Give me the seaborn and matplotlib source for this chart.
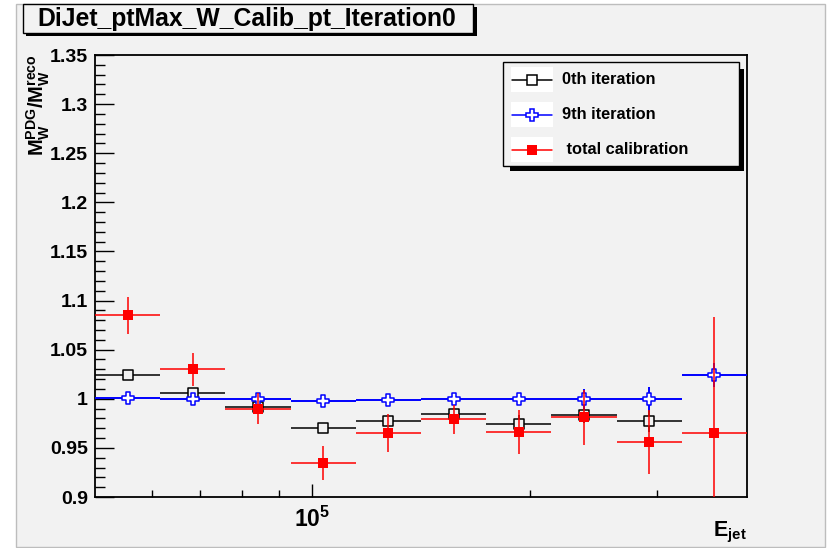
import numpy as np
import pandas as pd
import matplotlib
matplotlib.use("Agg")
import matplotlib.pyplot as plt
from matplotlib.patches import Rectangle
from matplotlib.lines import Line2D
from matplotlib.ticker import FixedLocator, NullFormatter
import seaborn as sns

# Jet-energy bins (log-spaced)
bin_edges = [50000, 61557, 75786, 93303, 114870, 141421, 174110,
             214355, 263902, 324901, 400000]

# W-mass ratio per bin for each calibration stage
iter0 = [1.0245, 1.006, 0.992, 0.970, 0.977, 0.985, 0.9745, 0.983, 0.977, np.nan]
iter0_err = [0.003, 0.004, 0.004, 0.004, 0.005, 0.006, 0.009, 0.008, 0.0107, np.nan]
iter9 = [1.001, 1.000, 1.000, 0.998, 0.999, 1.000, 1.000, 1.000, 1.000, 1.024]
iter9_err = [0.002, 0.003, 0.005, 0.003, 0.003, 0.004, 0.004, 0.010, 0.0124, 0.012]
total = [1.085, 1.030, 0.990, 0.935, 0.965, 0.979, 0.966, 0.981, 0.956, 0.965]
total_err = [0.0187, 0.017, 0.016, 0.0173, 0.019, 0.015, 0.0225, 0.028, 0.0327, 0.118]

series_names = ["0th iteration", "9th iteration", " total calibration"]
y_ticks = [0.9, 0.95, 1.0, 1.05, 1.1, 1.15, 1.2, 1.25, 1.3, 1.35]
y_tick_labels = ["0.9", "0.95", "1", "1.05", "1.1", "1.15", "1.2", "1.25", "1.3", "1.35"]

W, H = 827, 548
BG = "#f2f2f2"

sns.set_style("ticks")
plt.rcParams["font.family"] = ["Liberation Sans", "DejaVu Sans"]
plt.rcParams["mathtext.fontset"] = "custom"
plt.rcParams["mathtext.rm"] = "Liberation Sans"
plt.rcParams["mathtext.it"] = "Liberation Sans:bold"
plt.rcParams["mathtext.bf"] = "Liberation Sans:bold"
for key in ["text.color", "axes.labelcolor", "xtick.color", "ytick.color", "axes.edgecolor"]:
    plt.rcParams[key] = "black"


def fx(x):
    return x / W


def fy(y):
    return 1 - y / H


fig = plt.figure(figsize=(W / 100, H / 100), dpi=100, facecolor="white")
# canvas panel
fig.patches.append(Rectangle((fx(16), fy(547)), fx(825) - fx(16), fy(4) - fy(547),
                             transform=fig.transFigure, facecolor=BG,
                             edgecolor="#bdbdbd", linewidth=1.0, zorder=-5))

ax = fig.add_axes([fx(95), fy(497), fx(747) - fx(95), fy(55) - fy(497)])
ax.set_facecolor(BG)
ax.set_xscale("log")
ax.set_xlim(bin_edges[0], bin_edges[-1])
ax.set_ylim(0.9, 1.35)

edges = np.array(bin_edges, dtype=float)
centers = np.sqrt(edges[:-1] * edges[1:])
xerr = [centers - edges[:-1], edges[1:] - centers]

df = pd.DataFrame({
    "E_jet": np.concatenate([centers] * 3),
    "ratio": np.concatenate([iter0, iter9, total]),
    "err": np.concatenate([iter0_err, iter9_err, total_err]),
    "stage": np.repeat(series_names, len(centers)),
})

styles = {
    series_names[0]: dict(color="black", marker="s", face=BG, size=48, lw=1.1, elw=1.1),
    series_names[1]: dict(color="#0000ff", marker="P", face="white", size=64, lw=1.1, elw=1.4),
    series_names[2]: dict(color="#ff0000", marker="s", face="#ff0000", size=42, lw=0.0, elw=1.1),
}

for i, name in enumerate(series_names):
    st = styles[name]
    sub = df[df["stage"] == name].dropna()
    sel = np.isin(centers, sub["E_jet"].values)
    xe = [xerr[0][sel], xerr[1][sel]]
    ax.errorbar(sub["E_jet"], sub["ratio"], xerr=xe, yerr=sub["err"], fmt="none",
                ecolor=st["color"], elinewidth=st["elw"], capsize=0, zorder=2 + 2 * i)
    sns.scatterplot(data=sub, x="E_jet", y="ratio", ax=ax, marker=st["marker"],
                    s=st["size"], color=st["face"], edgecolor=st["color"],
                    linewidth=st["lw"], zorder=3 + 2 * i, legend=False)

ax.set_xlabel("")
ax.set_ylabel("")

# ticks
ax.yaxis.set_major_locator(FixedLocator(y_ticks))
ax.set_yticklabels(y_tick_labels)
ax.yaxis.set_minor_locator(FixedLocator(np.round(np.arange(0.9, 1.3501, 0.01), 3)))
ax.xaxis.set_major_locator(FixedLocator([1e5]))
ax.xaxis.set_minor_locator(FixedLocator([6e4, 7e4, 8e4, 9e4, 2e5, 3e5]))
ax.xaxis.set_minor_formatter(NullFormatter())
ax.set_xticklabels([r"$\mathbf{10^{5}}$"])
ax.tick_params(axis="y", which="major", direction="in", length=13.5, width=1.0,
               labelsize=14, pad=5)
ax.tick_params(axis="y", which="minor", direction="in", length=7, width=1.0)
ax.tick_params(axis="x", which="major", direction="in", length=9.5, width=1.0,
               labelsize=16.5, pad=7)
ax.tick_params(axis="x", which="minor", direction="in", length=5, width=1.0)
for lab in ax.get_yticklabels():
    lab.set_fontweight("bold")
for sp in ax.spines.values():
    sp.set_visible(True)
    sp.set_linewidth(1.3)
    sp.set_color("black")

# axis titles
fig.text(fx(38), fy(54), r"$\mathbf{M_{W}^{PDG}/M_{W}^{reco}}$", rotation=90,
         ha="center", va="top", fontsize=14.5)
fig.text(fx(747), fy(545), r"$\mathbf{E_{jet}}$", ha="right", va="bottom", fontsize=15.5)

# title box with shadow
fig.patches.append(Rectangle((fx(26), fy(36)), fx(477) - fx(26), fy(7) - fy(36),
                             transform=fig.transFigure, facecolor="black",
                             edgecolor="none", zorder=5))
fig.patches.append(Rectangle((fx(23), fy(33)), fx(473) - fx(23), fy(4) - fy(33),
                             transform=fig.transFigure, facecolor=BG,
                             edgecolor="black", linewidth=1.0, zorder=6))
fig.text(fx(247), fy(19), "DiJet_ptMax_W_Calib_pt_Iteration0", ha="center",
         va="center", fontsize=17.8, fontweight="bold", zorder=7)

# legend with shadow
fig.patches.append(Rectangle((fx(510), fy(171)), fx(744) - fx(510), fy(69) - fy(171),
                             transform=fig.transFigure, facecolor="black",
                             edgecolor="none", zorder=5))
fig.patches.append(Rectangle((fx(503), fy(166)), fx(739) - fx(503), fy(62) - fy(166),
                             transform=fig.transFigure, facecolor=BG,
                             edgecolor="black", linewidth=1.0, zorder=6))
row_y = [79.5, 114.5, 149.5]
for name, yc in zip(series_names, row_y):
    st = styles[name]
    fig.patches.append(Rectangle((fx(511), fy(yc + 12.5)), fx(553) - fx(511), 25 / H,
                                 transform=fig.transFigure, facecolor="white",
                                 edgecolor="none", zorder=7))
    fig.lines.append(Line2D([fx(512), fx(552)], [fy(yc), fy(yc)], transform=fig.transFigure,
                            color=st["color"], linewidth=1.1, zorder=8))
    fig.lines.append(Line2D([fx(532)], [fy(yc)], transform=fig.transFigure,
                            marker=st["marker"], markersize=np.sqrt(st["size"]),
                            markerfacecolor=st["face"] if name != series_names[0] else "white",
                            markeredgecolor=st["color"], markeredgewidth=st["lw"],
                            linestyle="none", zorder=9))
    fig.text(fx(562), fy(yc), name, ha="left", va="center", fontsize=11.8,
             fontweight="bold", zorder=9)

fig.savefig("out.png", dpi=100, facecolor=fig.get_facecolor())
